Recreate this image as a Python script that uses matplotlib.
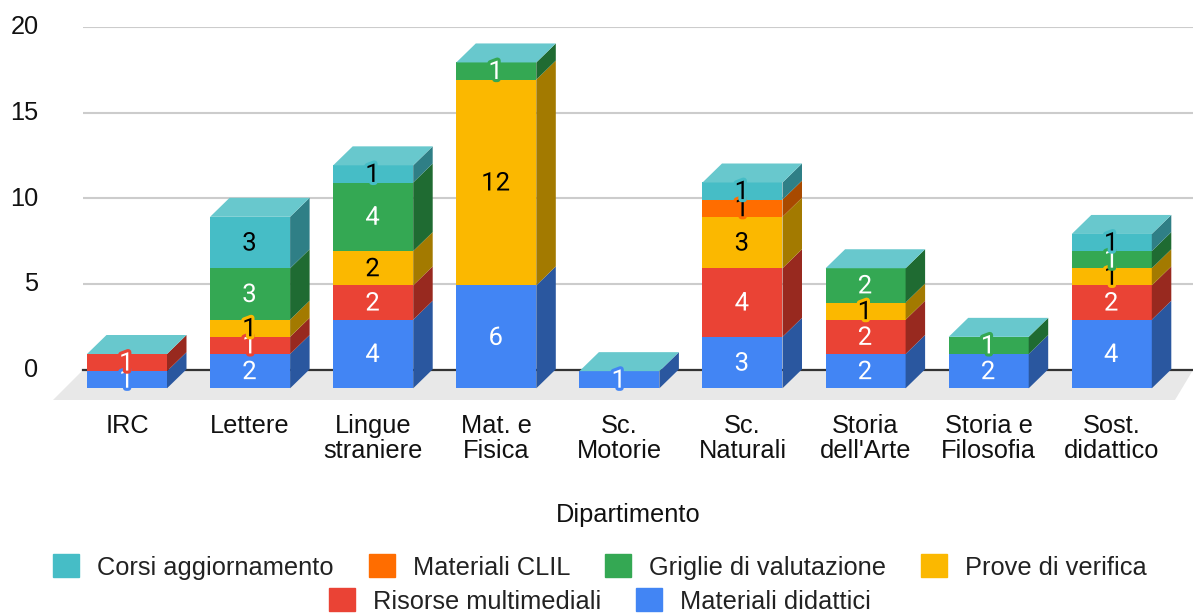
import matplotlib
matplotlib.use('Agg')
import matplotlib.pyplot as plt
import matplotlib.patheffects as pe
from matplotlib.patches import Polygon, Patch
from matplotlib.transforms import ScaledTranslation

plt.rcParams['font.family'] = ['Liberation Sans', 'DejaVu Sans']

dipartimenti = ['IRC', 'Lettere', 'Lingue\nstraniere', 'Mat. e\nFisica', 'Sc.\nMotorie',
                'Sc.\nNaturali', "Storia\ndell'Arte", 'Storia e\nFilosofia', 'Sost.\ndidattico']

# serie dal basso verso l'alto
materiali_didattici = [1, 2, 4, 6, 1, 3, 2, 2, 4]
risorse_multimediali = [1, 1, 2, 0, 0, 4, 2, 0, 2]
prove_verifica = [0, 1, 2, 12, 0, 3, 1, 0, 1]
griglie_valutazione = [0, 3, 4, 1, 0, 0, 2, 1, 1]
materiali_clil = [0, 0, 0, 0, 0, 1, 0, 0, 0]
corsi_aggiornamento = [0, 3, 1, 0, 0, 1, 0, 0, 1]

serie = [
    ('Materiali didattici', materiali_didattici, '#4285f4', '#2a579f', 'white'),
    ('Risorse multimediali', risorse_multimediali, '#ea4335', '#98291f', 'white'),
    ('Prove di verifica', prove_verifica, '#fbb800', '#a37a00', 'black'),
    ('Griglie di valutazione', griglie_valutazione, '#34a853', '#1f6b32', 'white'),
    ('Materiali CLIL', materiali_clil, '#ff6d00', '#a84a00', 'black'),
    ('Corsi aggiornamento', corsi_aggiornamento, '#46bdc6', '#2f7f86', 'black'),
]
colore_top = '#68c8cd'

W, H = 1193, 614
fig = plt.figure(figsize=(W / 100, H / 100), dpi=100)
ax = fig.add_axes([83 / W, 1 - 370 / H, (1193 - 83) / W, (370 - 27) / H])

passo = 123.1  # pixel tra due categorie
px_y = (370 - 27) / 20
ax.set_xlim((83 - 127) / passo, (1193 - 127) / passo)
ax.set_ylim(0, 20)

larg = 80 / passo
dx = 19.5 / passo
dy = 19 / px_y
base = -18.3 / px_y

# griglia e pavimento
ax.set_axisbelow(True)
ax.yaxis.grid(True, color='#cccccc', linewidth=1.5)
ax.axhline(0, color='#333333', linewidth=1.6, zorder=1.5, clip_on=False)
x0, x1 = ax.get_xlim()
ax.add_patch(Polygon([(x0, 0), (x1, 0), (x1 - 18 / passo, -30 / px_y), (x0 - 30 / passo, -30 / px_y)],
                     color='#e8e8e8', lw=0, zorder=1, clip_on=False))

cumulato = [0] * len(dipartimenti)
for nome, valori, col, col_lato, col_testo in serie:
    for i, v in enumerate(valori):
        if v == 0:
            continue
        left = i - larg / 2
        bottom = base + cumulato[i]
        ax.bar(i, v, larg, bottom=bottom, color=col, zorder=3, clip_on=False)
        ax.add_patch(Polygon([(left + larg, bottom), (left + larg + dx, bottom + dy),
                              (left + larg + dx, bottom + dy + v), (left + larg, bottom + v)],
                             color=col_lato, lw=0, zorder=3, clip_on=False))
        cumulato[i] += v

# facce superiori
for i, tot in enumerate(cumulato):
    left = i - larg / 2
    top = base + tot
    ax.add_patch(Polygon([(left, top), (left + larg, top), (left + larg + dx, top + dy), (left + dx, top + dy)],
                         color=colore_top, lw=0, zorder=3, clip_on=False))

# etichette, con alone del colore della serie
cumulato = [0] * len(dipartimenti)
z = 4
for nome, valori, col, col_lato, col_testo in serie:
    for i, v in enumerate(valori):
        if v == 0:
            continue
        t = ax.text(i - 0.005, base + cumulato[i] + v / 2 + 1.5 / px_y, str(v), ha='center', va='center_baseline',
                    fontsize=18.5, family='Roboto', color=col_testo, zorder=z)
        t.set_path_effects([pe.withStroke(linewidth=4.5, foreground=col)])
        cumulato[i] += v
        z += 0.01

for s in ax.spines.values():
    s.set_visible(False)
ax.set_yticks([0, 5, 10, 15, 20])
ax.set_xticks(range(len(dipartimenti)))
ax.set_xticklabels(dipartimenti, linespacing=1.05)
ax.tick_params(axis='both', length=0, labelsize=18.3, labelcolor='#111111')
ax.tick_params(axis='x', pad=31.5)
ax.tick_params(axis='y', pad=32)
# numeri dell'asse y leggermente piu' in alto
for lab in ax.get_yticklabels():
    lab.set_transform(lab.get_transform() + ScaledTranslation(0, 1.8 / 72, fig.dpi_scale_trans))
ax.set_xlabel('Dipartimento', fontsize=18.3, color='#111111')
ax.xaxis.set_label_coords((628 - 83) / (1193 - 83), -(503 - 370) / (370 - 27), transform=ax.transAxes)
ax.xaxis.label.set_va('top')

# legenda su due righe
colori = {s[0]: s[2] for s in serie}
riga1 = ['Corsi aggiornamento', 'Materiali CLIL', 'Griglie di valutazione', 'Prove di verifica']
riga2 = ['Risorse multimediali', 'Materiali didattici']
for riga, cy in [(riga1, 567), (riga2, 601)]:
    fig.legend(handles=[Patch(color=colori[n], label=n) for n in riga], ncol=len(riga),
               loc='center', bbox_to_anchor=(600 / W, 1 - cy / H), frameon=False, fontsize=18.3,
               handlelength=1.02, handleheight=1.02, handletextpad=0.71, columnspacing=1.38,
               labelcolor='#222222', borderpad=0, borderaxespad=0)

fig.savefig('out.png', dpi=100)
